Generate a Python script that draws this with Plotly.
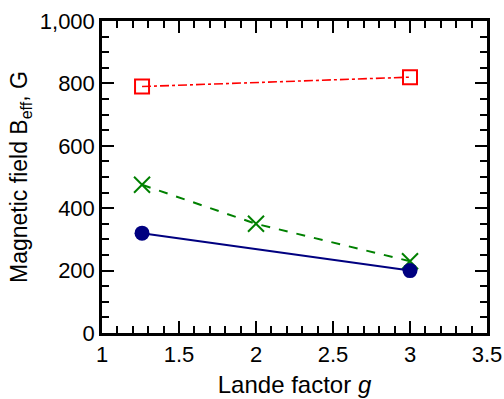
import plotly.graph_objects as go

# Lande factor values and effective magnetic field estimates (G)
g_square = [1.26, 3.0]
b_square = [790, 820]

g_cross = [1.26, 2.0, 3.0]
b_cross = [475, 350, 230]

g_circle = [1.26, 3.0]
b_circle = [320, 200]

x_ticks = [1, 1.5, 2, 2.5, 3, 3.5]
x_ticklabels = ["1", "1.5", "2", "2.5", "3", "3.5"]
y_ticks = [0, 200, 400, 600, 800, 1000]
y_ticklabels = ["0", "200", "400", "600", "800", "1,000"]

FONT = "Liberation Sans, Arial, sans-serif"

fig = go.Figure()

fig.add_trace(go.Scatter(
    x=g_square, y=b_square, mode="lines+markers",
    line=dict(color="#ff0000", width=1.6, dash="dashdot"),
    marker=dict(symbol="square-open", size=14, color="#ff0000",
                line=dict(color="#ff0000", width=2)),
    showlegend=False,
))

fig.add_trace(go.Scatter(
    x=g_cross, y=b_cross, mode="lines+markers",
    line=dict(color="#008000", width=2, dash="dash"),
    marker=dict(symbol="x-thin-open", size=16, color="#008000",
                line=dict(color="#008000", width=2)),
    showlegend=False,
))

fig.add_trace(go.Scatter(
    x=g_circle, y=b_circle, mode="lines+markers",
    line=dict(color="#000080", width=2),
    marker=dict(symbol="circle", size=15, color="#000080"),
    showlegend=False,
))

axis_common = dict(
    showline=True, linecolor="black", linewidth=2.5,
    mirror="ticks", ticks="inside", ticklen=12, tickwidth=2, tickcolor="black",
    showgrid=False, zeroline=False, automargin=False,
    tickfont=dict(family=FONT, size=22, color="black"),
)

fig.update_xaxes(
    range=[1, 3.5], tickvals=x_ticks, ticktext=x_ticklabels,
    minor=dict(dtick=0.1, ticks="inside", ticklen=7, tickwidth=1.6, tickcolor="black"),
    title=dict(text="Lande factor <i>g</i>", font=dict(family=FONT, size=24, color="black"),
               standoff=11),
    **axis_common,
)
fig.update_yaxes(
    range=[0, 1000], tickvals=y_ticks, ticktext=y_ticklabels,
    minor=dict(dtick=50, ticks="inside", ticklen=7, tickwidth=1.6, tickcolor="black"),
    title=dict(text="Magnetic field B<sub>eff</sub>, G", font=dict(family=FONT, size=23, color="black"),
               standoff=6),
    **axis_common,
)

fig.update_layout(
    width=504, height=399,
    margin=dict(l=102, r=17, t=21, b=66),
    paper_bgcolor="white", plot_bgcolor="white",
)

fig.write_html("out.html")
